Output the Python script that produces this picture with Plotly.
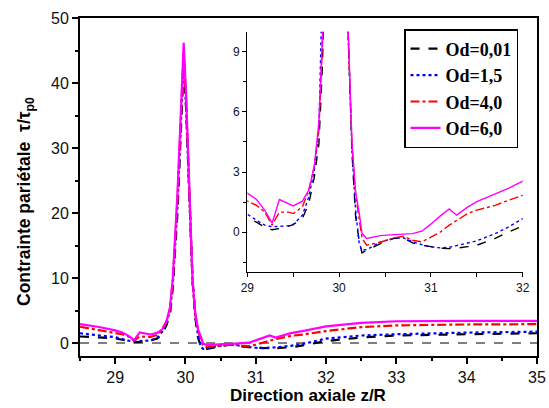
import plotly.graph_objects as go

# ---- data ----
z = [28.5, 28.75, 29.0, 29.1, 29.19, 29.27, 29.35, 29.45, 29.5, 29.6, 29.67, 29.73, 29.78,
     29.82, 29.886, 29.94, 29.975, 30.01, 30.067, 30.10, 30.14, 30.18, 30.22, 30.25, 30.3,
     30.45, 30.6, 30.7, 30.8, 30.9, 31.0, 31.1, 31.2, 31.28, 31.4, 31.5, 31.7, 31.85, 32.0,
     32.5, 33.0, 34.0, 35.0]

od_001 = [1.0, 0.85, 0.72, 0.5, 0.25, 0.12, 0.18, 0.3, 0.38, 0.68, 1.43, 2.75, 4.4,
          8.5, 20, 34, 43, 36, 21, 9.8, 4.0, 0.77, -0.48, -1.03, -0.9,
          -0.57, -0.3, -0.28, -0.53, -0.65, -0.72, -0.8, -0.82, -0.8, -0.72, -0.65, -0.31, 0.02, 0.3,
          0.85, 1.15, 1.35, 1.5]
od_15 = [1.5, 1.2, 0.9, 0.6, 0.35, 0.27, 0.28, 0.32, 0.38, 0.85, 1.76, 3.1, 5.1,
         9, 21, 35, 43.5, 36, 21, 9.8, 4.0, 1.1, -0.6, -0.9, -0.87,
         -0.48, -0.3, -0.28, -0.48, -0.62, -0.73, -0.78, -0.75, -0.67, -0.55, -0.43, -0.07, 0.27, 0.68,
         1.15, 1.35, 1.6, 1.75]
od_40 = [2.5, 2.05, 1.56, 1.34, 1.01, 0.35, 1.0, 1.0, 0.93, 1.26, 2.1, 3.3, 5.1,
         9.5, 22, 36, 44.8, 37, 21, 9.5, 4.4, 1.9, 0.6, -0.3, -0.65,
         -0.5, -0.28, -0.2, -0.4, -0.48, -0.25, 0.0, 0.35, 0.6, 0.93, 1.1, 1.34, 1.6, 1.84,
         2.45, 2.7, 2.85, 2.9]
od_60 = [2.9, 2.5, 1.95, 1.63, 1.1, 0.45, 1.63, 1.4, 1.31, 1.55, 2.1, 3.3, 5.5,
         10, 23, 37, 46.2, 38, 22, 10, 4.5, 2.0, 0.93, -0.07, -0.31,
         -0.17, -0.12, -0.1, -0.07, 0.05, 0.4, 0.8, 1.16, 0.85, 1.25, 1.52, 1.9, 2.2, 2.55,
         3.1, 3.35, 3.4, 3.4]

names = ["Od=0,01", "Od=1,5", "Od=4,0", "Od=6,0"]
series = [od_001, od_15, od_40, od_60]
colors = ["#000000", "#0000ff", "#ff0000", "#ff00ff"]
dashes = ["dash", "dot", "dashdot", "solid"]

main_x_ticks = [29, 30, 31, 32, 33, 34, 35]
main_y_ticks = [0, 10, 20, 30, 40, 50]
inset_x_ticks = [29, 30, 31, 32]
inset_y_ticks = [0, 3, 6, 9]

fig = go.Figure()

for n, s, c, d in zip(names, series, colors, dashes):
    fig.add_trace(go.Scatter(x=z, y=s, mode="lines", name=n,
                             line=dict(color=c, width=2.2, dash=d),
                             xaxis="x", yaxis="y"))
for n, s, c, d in zip(names, series, colors, dashes):
    fig.add_trace(go.Scatter(x=z, y=s, mode="lines", name=n, showlegend=False,
                             line=dict(color=c, width=1.4, dash=d),
                             xaxis="x2", yaxis="y2"))

# zero reference lines
fig.add_shape(type="line", xref="x domain", yref="y", x0=0, x1=1, y0=0, y1=0,
              line=dict(color="black", width=1.2, dash="dash"), layer="below")
fig.add_shape(type="line", xref="x2 domain", yref="y2", x0=0, x1=1, y0=0, y1=0,
              line=dict(color="black", width=1, dash="dot"), layer="below")

W, H = 549, 408
L, R, T, B = 80, 12, 18, 52
pw, ph = W - L - R, H - T - B

def px_x(p):
    return (p - L) / pw

def px_y(p):
    return (H - B - p) / ph

tickfont = dict(family="Liberation Sans, Arial, sans-serif", size=16, color="#111")

fig.add_annotation(text="<b>Contrainte pariétale  τ/τ<sub>p0</sub></b>", textangle=-90,
                   xref="paper", yref="paper", x=px_x(25), y=px_y(202),
                   xanchor="center", yanchor="middle", showarrow=False,
                   font=dict(family="Liberation Sans, Arial, sans-serif", size=17.5, color="black"))
fig.add_annotation(text="<b>Direction axiale z/R</b>",
                   xref="paper", yref="paper", x=px_x(308), y=px_y(395),
                   xanchor="center", yanchor="middle", showarrow=False,
                   font=dict(family="Liberation Sans, Arial, sans-serif", size=17, color="black"))

fig.update_layout(
    width=W, height=H,
    margin=dict(l=L, r=R, t=T, b=B, autoexpand=False),
    paper_bgcolor="white", plot_bgcolor="white",
    xaxis=dict(range=[28.5, 35], tickvals=main_x_ticks, ticks="outside", ticklen=6,
               tickwidth=1.5, tickcolor="black", automargin=False,
               minor=dict(dtick=0.5, ticks="outside", ticklen=3, tickcolor="black", tickwidth=1.5),
               showline=True, linewidth=2, linecolor="black", mirror=True,
               showgrid=False, zeroline=False, tickfont=tickfont),
    yaxis=dict(range=[-2, 50], tickvals=main_y_ticks, ticks="outside", ticklen=6,
               tickwidth=1.5, tickcolor="black", automargin=False,
               minor=dict(dtick=5, ticks="outside", ticklen=3, tickcolor="black", tickwidth=1.5),
               showline=True, linewidth=2, linecolor="black", mirror=True,
               showgrid=False, zeroline=False, tickfont=tickfont),
    xaxis2=dict(domain=[px_x(247.3), px_x(522.7)], anchor="y2", range=[29, 32],
                tickvals=inset_x_ticks, ticks="outside", ticklen=4, tickcolor="black",
                minor=dict(dtick=0.5, ticks="outside", ticklen=4, tickcolor="black"),
                showline=True, linewidth=1.2, linecolor="black", mirror=False,
                showgrid=False, zeroline=False, automargin=False,
                tickfont=dict(family="Liberation Sans, Arial, sans-serif", size=12, color="#111")),
    yaxis2=dict(domain=[px_y(272.3), px_y(31.7)], anchor="x2", range=[-2, 10],
                tickvals=inset_y_ticks, ticks="outside", ticklen=4, tickcolor="black",
                minor=dict(dtick=1.5, tick0=0, ticks="outside", ticklen=3, tickcolor="black"),
                showline=True, linewidth=1.2, linecolor="black", mirror=False,
                showgrid=False, zeroline=False, automargin=False,
                tickfont=dict(family="Liberation Sans, Arial, sans-serif", size=12, color="#111")),
    legend=dict(x=px_x(404), y=px_y(29), xanchor="left", yanchor="top",
                bgcolor="white", bordercolor="black", borderwidth=1.5,
                font=dict(family="Liberation Serif, Times New Roman, serif", size=18,
                          color="black", weight="bold"),
                itemwidth=30, tracegroupgap=0),
    showlegend=True,
)

fig.write_html("out.html")
